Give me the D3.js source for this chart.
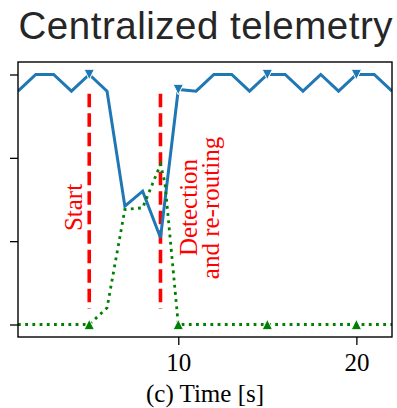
<!DOCTYPE html>
<html><head><meta charset="utf-8">
<script src="https://cdn.jsdelivr.net/npm/d3@7"></script>
<style>html,body{margin:0;padding:0;background:#fff;}svg{display:block;}</style>
</head><body>
<script>
const blueTimes = [1,2,3,4,5,6,7,8,9,10,11,12,13,14,15,16,17,18,19,20,21,22];
const blueValues = [2.8,3,3,2.8,3,2.8,1.42,1.6,1.04,2.82,2.8,3,3,2.8,3,3,2.8,3,2.8,3,3,2.8];
const greenTimes = [1,2,3,4,5,6,7,8,9,9.25,10,11,12,13,14,15,16,17,18,19,20,21,22];
const greenValues = [0,0,0,0,0,0.2,1.38,1.4,1.92,1.7,0,0,0,0,0,0,0,0,0,0,0,0,0];
const markerTimes = [5,10,15,20];
const eventTimes = [5,9];
const eventRange = [0.19,2.77];
const xTicks = [10,20];
const yTicks = [0,1,2,3];
const title = "Centralized telemetry";
const xLabel = "(c) Time [s]";

const W = 397, H = 408;
const m = {left:18, right:392, top:62, bottom:337};
const svg = d3.select("body").append("svg").attr("width",W).attr("height",H);
const x = d3.scaleLinear().domain([1,22]).range([m.left,m.right]);
const y = d3.scaleLinear().domain([-0.15,3.15]).range([m.bottom,m.top]);

svg.append("defs").append("clipPath").attr("id","clip")
  .append("rect").attr("x",m.left).attr("y",m.top).attr("width",m.right-m.left).attr("height",m.bottom-m.top);

const g = svg.append("g").attr("clip-path","url(#clip)");

// event lines
g.selectAll(".ev").data(eventTimes).enter().append("line")
  .attr("x1",d=>x(d)).attr("x2",d=>x(d))
  .attr("y1",y(eventRange[1])).attr("y2",y(eventRange[0]))
  .attr("stroke","#ff0000").attr("stroke-width",3.6).attr("stroke-dasharray","13.5,6");

const blue = blueTimes.map((t,i)=>[t,blueValues[i]]);
const green = greenTimes.map((t,i)=>[t,greenValues[i]]);
const line = d3.line().x(d=>x(d[0])).y(d=>y(d[1]));

g.append("path").datum(blue).attr("d",line).attr("fill","none")
  .attr("stroke","#1f77b4").attr("stroke-width",3).attr("stroke-linejoin","miter");
g.append("path").datum(green).attr("d",line).attr("fill","none")
  .attr("stroke","#008000").attr("stroke-width",2.8).attr("stroke-dasharray","2.8,4.4");

const s = 5.2;
const triDown = `M${-s},${-s}L${s},${-s}L0,${s}Z`;
const triUp = `M${-s},${s}L${s},${s}L0,${-s}Z`;
g.selectAll(".bm").data(blue.filter(d=>markerTimes.includes(d[0]))).enter().append("path")
  .attr("d",triDown).attr("transform",d=>`translate(${x(d[0])},${y(d[1])})`)
  .attr("fill","#1f77b4").attr("stroke","#fff").attr("stroke-width",1);
g.selectAll(".gm").data(green.filter(d=>markerTimes.includes(d[0]))).enter().append("path")
  .attr("d",triUp).attr("transform",d=>`translate(${x(d[0])},${y(d[1])})`)
  .attr("fill","#008000").attr("stroke","#fff").attr("stroke-width",1);

// annotations
const serif = "'Liberation Serif','Times New Roman',serif";
function vtext(tx, ty, str){
  svg.append("text").attr("transform",`translate(${tx},${ty}) rotate(-90)`)
    .attr("text-anchor","middle").attr("font-family",serif).attr("font-size",25)
    .attr("fill","#ff0000").text(str);
}
vtext(81.7,207.5,"Start");
vtext(197.3,207.5,"Detection");
vtext(219.3,208,"and re-routing");

// axes
const yAxis = svg.append("g").attr("transform",`translate(${m.left},0)`)
  .call(d3.axisLeft(y).tickValues(yTicks).tickFormat("").tickSize(8));
const xAxis = svg.append("g").attr("transform",`translate(0,${m.bottom})`)
  .call(d3.axisBottom(x).tickValues(xTicks).tickSize(8).tickPadding(8));
[yAxis,xAxis].forEach(a=>{
  a.select(".domain").remove();
  a.selectAll(".tick line").attr("stroke","#000").attr("stroke-width",1.3);
});
xAxis.selectAll(".tick text").attr("font-family",serif).attr("font-size",25).attr("fill","#000");

svg.append("rect").attr("x",m.left).attr("y",m.top).attr("width",m.right-m.left).attr("height",m.bottom-m.top)
  .attr("fill","none").attr("stroke","#000").attr("stroke-width",1.4);

svg.append("text").attr("x",205).attr("y",401.5).attr("text-anchor","middle")
  .attr("font-family",serif).attr("font-size",25).attr("fill","#000").text(xLabel);

svg.append("text").attr("x",205.5).attr("y",38.5).attr("text-anchor","middle")
  .attr("font-family","'Liberation Sans',Arial,sans-serif").attr("font-size",38.5)
  .attr("textLength",374).attr("lengthAdjust","spacing")
  .attr("fill","#262626").text(title);
</script>
</body></html>
